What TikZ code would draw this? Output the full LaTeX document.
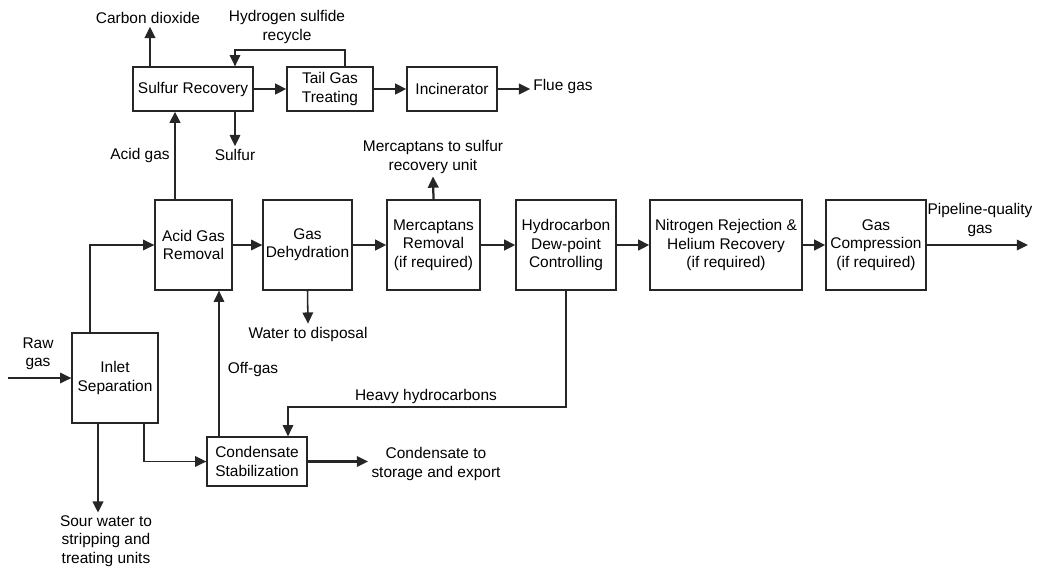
\documentclass[tikz,border=0pt]{standalone}
\usepackage{fontspec}
\setmainfont{Liberation Sans}
\usetikzlibrary{arrows.meta}

\begin{document}
\begin{tikzpicture}[x=0.025cm, y=-0.025cm,
  font=\fontsize{11}{13}\selectfont,
  unit/.style={draw=black!85, line width=0.9pt, align=center, inner sep=1pt},
  lbl/.style={align=center, inner sep=2pt},
  flow/.style={draw=black!85, line width=1.6pt, -{Triangle[length=8pt,width=7.5pt]}},
  thinflow/.style={draw=black!85, line width=1.1pt, -{Triangle[length=8pt,width=7.5pt]}}]
\useasboundingbox (0,0) rectangle (1040,568);

% Sulfur train (top row)
\node[unit, minimum width=3cm, minimum height=1.1cm] (sr) at (193,89) {Sulfur Recovery};
\node[unit, minimum width=2.15cm, minimum height=1.1cm] (tgt) at (330,89) {Tail Gas\\Treating};
\node[unit, minimum width=2.25cm, minimum height=1.1cm] (inc) at (452,89) {Incinerator};

% Gas train (middle row)
\node[unit, minimum width=1.925cm, minimum height=2.25cm] (agr) at (193.5,245) {Acid Gas\\Removal};
\node[unit, minimum width=2.225cm, minimum height=2.25cm] (gd) at (307.5,245) {Gas\\Dehydration};
\node[unit, minimum width=2.325cm, minimum height=2.25cm] (mr) at (433.5,245) {Mercaptans\\Removal\\(if required)};
\node[unit, minimum width=2.5cm, minimum height=2.25cm] (hdc) at (566,245) {Hydrocarbon\\Dew-point\\Controlling};
\node[unit, minimum width=3.8cm, minimum height=2.25cm] (nr) at (726,245) {Nitrogen Rejection \&\\Helium Recovery\\(if required)};
\node[unit, minimum width=2.5cm, minimum height=2.25cm] (gc) at (876,245) {Gas\\Compression\\(if required)};

% Inlet and condensate
\node[unit, minimum width=2.15cm, minimum height=2.25cm] (inl) at (115,378) {Inlet\\Separation};
\node[unit, minimum width=2.5cm, minimum height=1.225cm] (cs) at (257,461.5) {Condensate\\Stabilization};

% Stream labels
\node[lbl] (co2) at (148,18) {Carbon dioxide};
\node[lbl] (rec) at (287,27) {Hydrogen sulfide\\recycle};
\node[lbl] (flue) at (563,86) {Flue gas};
\node[lbl] (acid) at (140,155) {Acid gas};
\node[lbl] (sulfur) at (235,155) {Sulfur};
\node[lbl] (merc) at (433,157) {Mercaptans to sulfur\\recovery unit};
\node[lbl] (pipe) at (980,220) {Pipeline-quality\\gas};
\node[lbl] (water) at (308,334) {Water to disposal};
\node[lbl] (raw) at (38,354) {Raw\\gas};
\node[lbl] (offg) at (253,369) {Off-gas};
\node[lbl] (heavy) at (426,396) {Heavy hydrocarbons};
\node[lbl] (cond) at (436,464) {Condensate to\\storage and export};
\node[lbl] (sour) at (106,541) {Sour water to\\stripping and\\treating units};

% Helper points
\coordinate (rawin) at (8,378);
\coordinate (inlup) at (90,0);
\coordinate (sourx) at (98,0);
\coordinate (inlcs) at (144,0);
\coordinate (offx) at (219,0);
\coordinate (acidx) at (175,0);
\coordinate (sulfx) at (235,0);
\coordinate (co2x) at (150,0);
\coordinate (recx) at (345,0);
\coordinate (recy) at (235,50);
\coordinate (hvy) at (288,407);
\coordinate (condin) at (368,461.5);
\coordinate (pipeout) at (1028,245);

% Top row streams
\draw[flow] (sr.north -| co2x) -- (co2.south -| co2x);
\draw[thinflow] (tgt.north -| recx) |- (recy) -- (sr.north -| recy);
\draw[flow] (sr) -- (tgt);
\draw[flow] (tgt) -- (inc);
\draw[flow] (inc) -- (inc -| flue.west);
\draw[thinflow] (sr.south -| sulfx) -- (sulfur.north -| sulfx);
\draw[flow] (agr.north -| acidx) -- (sr.south -| acidx);

% Middle row streams
\draw[thinflow] (agr) -- (gd);
\draw[flow] (gd) -- (mr);
\draw[flow] (mr) -- (hdc);
\draw[flow] (hdc) -- (nr);
\draw[flow] (nr) -- (gc);
\draw[flow] (gc) -- (pipeout);
\draw[flow] (mr.north) -- (merc.south);
\draw[thinflow] (gd.south) -- (water.north);

% Inlet and condensate streams
\draw[thinflow] (rawin) -- (inl.west);
\draw[thinflow] (inl.north -| inlup) |- (agr.west);
\draw[flow] (inl.south -| sourx) -- (sour.north -| sourx);
\draw[thinflow] (inl.south -| inlcs) |- (cs.west);
\draw[thinflow] (cs.north -| offx) -- (agr.south -| offx);
\draw[thinflow] (hdc.south) |- (hvy) -- (cs.north -| hvy);
\draw[flow] (cs.east) -- (condin);

\end{tikzpicture}
\end{document}
